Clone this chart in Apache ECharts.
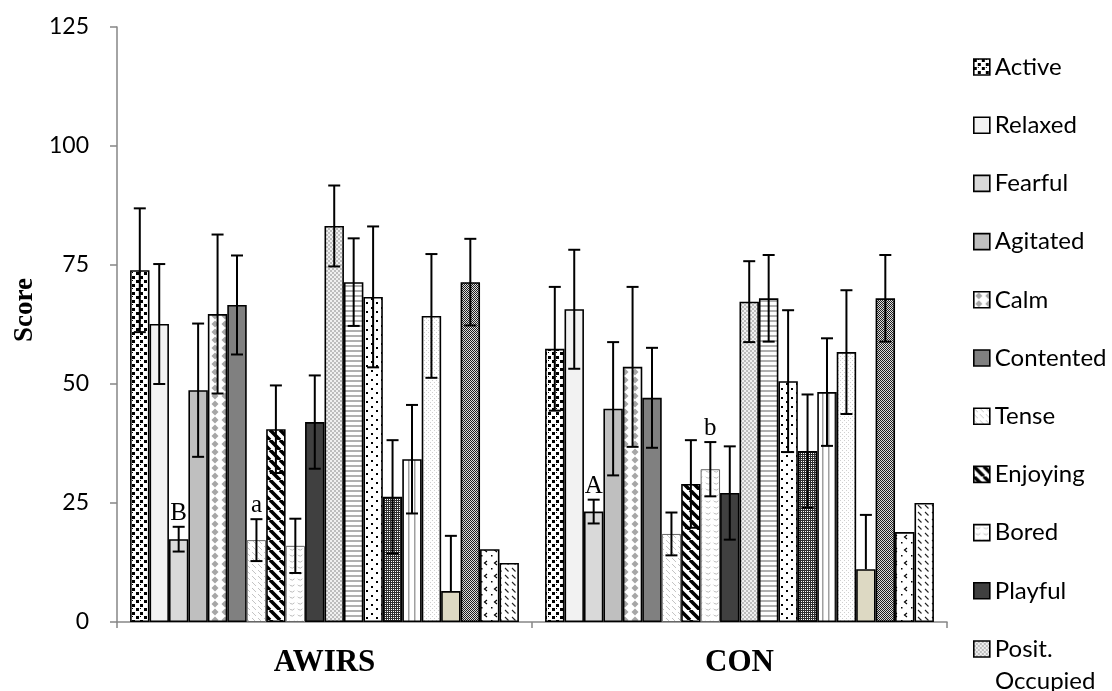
<!DOCTYPE html>
<html>
<head>
<meta charset="utf-8">
<script src="https://cdn.jsdelivr.net/npm/echarts@6/dist/echarts.min.js"></script>
<style>
html,body{margin:0;padding:0;background:#fff;}
#chart{width:1112px;height:691px;}
</style>
</head>
<body>
<div id="chart"></div>
<script>
// ---------- data ----------
var categories = ['AWIRS', 'CON'];
var seriesNames = ['Active', 'Relaxed', 'Fearful', 'Agitated', 'Calm', 'Contented', 'Tense', 'Enjoying', 'Bored', 'Playful', 'Posit. Occupied',
  'Negat. Occupied', 'Curious', 'Frustrated', 'Comfortable', 'Sociable', 'Apathetic', 'Attentive', 'Irritated', 'Distressed'];
var legendNamesMain = ['Active', 'Relaxed', 'Fearful', 'Agitated', 'Calm', 'Contented', 'Tense', 'Enjoying', 'Bored', 'Playful'];
var legendNamesLast = ['Posit. Occupied'];
var awirsValues = [73.9, 62.6, 17.4, 48.7, 64.7, 66.6, 17.2, 40.5, 16.0, 42.0, 83.2, 71.4, 68.3, 26.3, 34.2, 64.3, 6.5, 71.4, 15.3, 12.4];
var awirsErrors = [13.0, 12.6, 2.6, 14.0, 16.7, 10.4, 4.4, 9.2, 5.7, 9.8, 8.5, 9.2, 14.8, 11.9, 11.4, 13.0, 11.6, 9.1, 0, 0];
var conValues = [57.4, 65.7, 23.2, 44.8, 53.6, 47.1, 18.5, 29.0, 32.1, 27.1, 67.3, 68.0, 50.6, 35.9, 48.3, 56.7, 11.1, 68.0, 18.9, 25.0];
var conErrors = [13.0, 12.5, 2.5, 14.0, 16.8, 10.5, 4.5, 9.2, 5.7, 9.8, 8.5, 9.1, 14.9, 11.9, 11.3, 13.0, 11.4, 9.1, 0, 0];
var awirsLetters = ['', '', 'B', '', '', '', 'a', '', '', '', '', '', '', '', '', '', '', '', '', ''];
var conLetters = ['', '', 'A', '', '', '', '', '', 'b', '', '', '', '', '', '', '', '', '', '', ''];
var yTicks = [0, 25, 50, 75, 100, 125];
var yTitle = 'Score';

// ---------- patterns ----------
function pat(w, h, bg, draw) {
  var c = document.createElement('canvas');
  c.width = w; c.height = h;
  var g = c.getContext('2d');
  g.fillStyle = bg; g.fillRect(0, 0, w, h);
  if (draw) draw(g);
  return { image: c, repeat: 'repeat' };
}
var fills = [
  pat(8, 8, '#fff', function (g) { g.fillStyle = '#000'; g.fillRect(0, 0, 3, 3); g.fillRect(4, 4, 3, 3); g.fillRect(4, 0, 1, 1); }),
  '#f2f2f2',
  '#d9d9d9',
  '#bfbfbf',
  pat(10, 8, '#fff', function (g) { g.fillStyle = '#a6a6a6'; g.beginPath(); g.moveTo(5, 0.5); g.lineTo(8.5, 4); g.lineTo(5, 7.5); g.lineTo(1.5, 4); g.closePath(); g.fill(); }),
  '#808080',
  pat(6, 6, '#fff', function (g) { g.strokeStyle = '#c4c4c4'; g.lineWidth = 1; g.beginPath(); g.moveTo(0, 0); g.lineTo(4, 4); g.stroke(); }),
  pat(10, 10, '#fff', function (g) { g.strokeStyle = '#000'; g.lineWidth = 3.6; g.beginPath(); for (var k = -10; k <= 10; k += 10) { g.moveTo(k, 0); g.lineTo(k + 10, 10); } g.stroke(); }),
  pat(8, 6, '#fff', function (g) { g.strokeStyle = '#bcbcbc'; g.lineWidth = 1; g.beginPath(); g.arc(4, 1, 3, 0.2 * Math.PI, 0.8 * Math.PI); g.stroke(); }),
  '#404040',
  pat(4, 4, '#f0f0f0', function (g) { g.fillStyle = '#bdbdbd'; g.fillRect(0, 0, 2, 2); g.fillRect(2, 2, 2, 2); }),
  pat(4, 5, '#fff', function (g) { g.fillStyle = '#b0b0b0'; g.fillRect(0, 0, 4, 2); }),
  pat(10, 9, '#fff', function (g) { g.fillStyle = '#000'; g.fillRect(1, 1, 2, 2); g.fillRect(6, 5, 2, 2); }),
  pat(4, 4, '#303030', function (g) { g.fillStyle = '#fff'; g.fillRect(1, 1, 1, 1); g.fillRect(3, 3, 1, 1); g.fillRect(3, 1, 1, 1); g.fillRect(1, 3, 1, 1); }),
  pat(6, 2, '#fff', function (g) { g.fillStyle = '#a0a0a0'; g.fillRect(0, 0, 1.5, 2); }),
  pat(4, 4, '#fff', function (g) { g.fillStyle = '#d0d0d0'; g.fillRect(0, 0, 1, 1); g.fillRect(2, 2, 1, 1); }),
  '#ddd9c3',
  pat(2, 2, '#1e1e1e', function (g) { g.fillStyle = '#dcdcdc'; g.fillRect(1, 0, 1, 1); g.fillRect(0, 1, 1, 1); }),
  pat(10, 13, '#fff', function (g) { g.strokeStyle = '#000'; g.lineWidth = 1.2; g.beginPath(); g.moveTo(7, 2); g.lineTo(4.5, 4); g.lineTo(7, 6); g.stroke(); g.fillStyle = '#000'; g.fillRect(1, 9, 1.5, 1.5); }),
  pat(7, 7, '#fff', function (g) { g.strokeStyle = '#222'; g.lineWidth = 1.1; g.beginPath(); g.moveTo(1, 1); g.lineTo(4.5, 4.5); g.stroke(); })
];
var borderColors = seriesNames.map(function (n, i) { return (i === 6 || i === 8) ? '#666' : '#000'; });
var borderWidths = seriesNames.map(function (n, i) { return (i === 6 || i === 8) ? 1 : 1.6; });

// ---------- build ----------
var N = seriesNames.length;
var CAT_GAP = 0.063;
var series = seriesNames.map(function (name, i) {
  return {
    name: name,
    type: 'bar',
    barGap: '0%',
    barCategoryGap: (CAT_GAP * 100) + '%',
    data: [awirsValues[i], conValues[i]],
    itemStyle: { color: fills[i], borderColor: borderColors[i], borderWidth: borderWidths[i] },
    emphasis: { disabled: true },
    z: 2
  };
});

var errData = [];
var errLetters = [];
[[awirsValues, awirsErrors, awirsLetters], [conValues, conErrors, conLetters]].forEach(function (grp, c) {
  for (var i = 0; i < N; i++) {
    errData.push([c, i, grp[0][i], grp[1][i]]);
    errLetters.push(grp[2][i]);
  }
});

series.push({
  type: 'custom',
  name: 'errors',
  z: 5,
  silent: true,
  data: errData,
  encode: { x: 0, y: 2 },
  renderItem: function (params, api) {
    var c = api.value(0), s = api.value(1), v = api.value(2), e = api.value(3);
    var band = api.size([1, 0])[0];
    var used = band * (1 - CAT_GAP);
    var bw = used / N;
    var cx = api.coord([c, 0])[0] - used / 2 + (s + 0.5) * bw;
    var children = [];
    var topY = api.coord([c, v + e])[1];
    var valY = api.coord([c, v])[1];
    var hw = 6;
    if (e > 0) {
      var lo = v - e;
      var botY = api.coord([c, Math.max(lo, 0)])[1];
      var lineStyle = { stroke: '#000', lineWidth: 2 };
      if (lo >= 0) {
        children.push({ type: 'line', shape: { x1: cx, y1: topY, x2: cx, y2: botY }, style: lineStyle });
        children.push({ type: 'line', shape: { x1: cx - hw, y1: botY, x2: cx + hw, y2: botY }, style: lineStyle });
      } else {
        children.push({ type: 'line', shape: { x1: cx, y1: topY, x2: cx, y2: valY }, style: lineStyle });
      }
      children.push({ type: 'line', shape: { x1: cx - hw, y1: topY, x2: cx + hw, y2: topY }, style: lineStyle });
    }
    var letter = errLetters[params.dataIndex];
    if (letter) {
      children.push({
        type: 'text',
        style: {
          text: letter, x: cx, y: topY - 1, align: 'center', verticalAlign: 'bottom',
          font: '25px "Liberation Serif", "Times New Roman", serif', fill: '#000'
        }
      });
    }
    return { type: 'group', children: children };
  }
});

var legendText = { fontFamily: 'Lato, "Open Sans", sans-serif', fontSize: 24, color: '#000', lineHeight: 28 };
var legendCommon = {
  orient: 'vertical',
  left: 973,
  padding: 0,
  itemWidth: 16,
  itemHeight: 16,
  itemGap: 30.2,
  icon: 'rect',
  selectedMode: false,
  textStyle: legendText,
  itemStyle: { borderColor: '#000', borderWidth: 1.6 }
};

var chart = echarts.init(document.getElementById('chart'), null, { renderer: 'canvas' });
chart.setOption({
  animation: false,
  backgroundColor: '#fff',
  grid: { left: 117, right: 165, top: 27, bottom: 69, containLabel: false },
  legend: [
    Object.assign({}, legendCommon, { top: 53, data: legendNamesMain }),
    Object.assign({}, legendCommon, { top: 635, data: legendNamesLast, formatter: function (n) { return n.split(' ')[0]; } })
  ],
  graphic: [{
    type: 'text', left: 995, top: 669,
    style: { text: legendNamesLast[0].split(' ')[1], font: '24px Lato, "Open Sans", sans-serif', fill: '#000' }
  }, {
    type: 'text', x: 25, y: 310, rotation: Math.PI / 2,
    style: { text: yTitle, align: 'center', verticalAlign: 'middle', font: 'bold 27px "Liberation Serif", "Times New Roman", serif', fill: '#000' }
  }],
  xAxis: {
    type: 'category',
    data: categories,
    axisLine: { lineStyle: { color: '#868686', width: 1.5 } },
    axisTick: { show: true, length: 6, lineStyle: { color: '#868686', width: 1.5 } },
    axisLabel: { margin: 25, fontFamily: '"Liberation Serif", "Times New Roman", serif', fontWeight: 'bold', fontSize: 31, color: '#000' }
  },
  yAxis: {
    type: 'value',
    min: yTicks[0],
    max: yTicks[yTicks.length - 1],
    interval: 25,
    axisLine: { show: true, lineStyle: { color: '#868686', width: 1.5 } },
    axisTick: { show: true, length: 7, lineStyle: { color: '#868686', width: 1.5 } },
    splitLine: { show: false },
    axisLabel: { margin: 28, fontFamily: 'Lato, "Open Sans", sans-serif', fontSize: 23, color: '#000' }
  },
  series: series
});
</script>
</body>
</html>
